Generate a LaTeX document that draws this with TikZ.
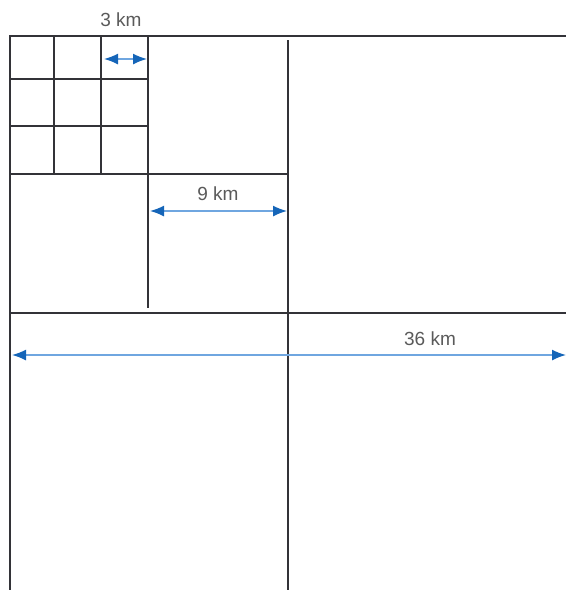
\documentclass[tikz,border=0pt]{standalone}
\usepackage{fontspec}
\setmainfont{Liberation Sans}
\usetikzlibrary{arrows.meta,calc,positioning}

\definecolor{gridline}{HTML}{333338}
\definecolor{arrowblue}{HTML}{1565B8}
\definecolor{shaftblue}{HTML}{6FA6E0}
\definecolor{labelgray}{HTML}{5A5A5A}

\tikzset{
  cell/.style={line width=1.9pt,draw=gridline},
  span/.style={draw=shaftblue,line width=1.5pt,
    {Latex[length=14pt,width=11pt,color=arrowblue]}-{Latex[length=14pt,width=11pt,color=arrowblue]}},
  spanlabel/.style={text=labelgray,font=\fontsize{19}{19}\selectfont,inner sep=0pt}
}

\begin{document}
\begin{tikzpicture}[x=1pt,y=-1pt]
  \useasboundingbox (0,0) rectangle (566,590);
  % outer frame and the 36 km split
  \draw[cell] (10,590) -- (10,36) -- (566,36);
  \draw[cell] (288,40) -- (288,590);
  \draw[cell] (10,313) -- (566,313);
  % the 9 km split
  \draw[cell] (148,36) -- (148,308);
  \draw[cell] (10,174) -- (288,174);
  % the 3 km cells
  \foreach \x in {54,101}
    \draw[cell] (\x,36) -- (\x,174);
  \foreach \y in {79,126}
    \draw[cell] (10,\y) -- (148,\y);

  \coordinate (a3) at (104,59);
  \coordinate (b3) at (147,59);
  \coordinate (a9) at (150,211);
  \coordinate (b9) at (287,211);
  \coordinate (a36) at (12,355);
  \coordinate (b36) at (566,355);
  \draw[span] (a3) -- (b3);
  \draw[span] (a9) -- (b9);
  \draw[span] (a36) -- (b36);
  \node[spanlabel] (lbl3) at (121,20) {3 km};
  \node[spanlabel] (lbl9) at (218,194) {9 km};
  \node[spanlabel] (lbl36) at (430,339) {36 km};
\end{tikzpicture}
\end{document}
